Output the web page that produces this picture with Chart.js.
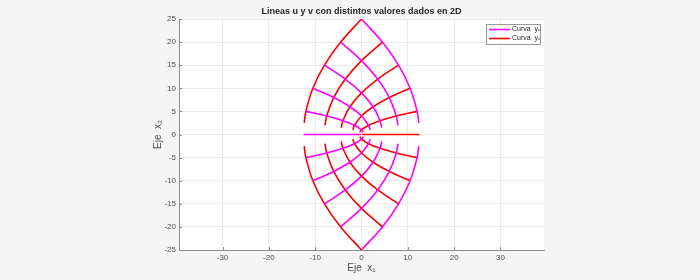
<!DOCTYPE html>
<html>
<head>
<meta charset="utf-8">
<script src="https://cdn.jsdelivr.net/npm/chart.js@4.4.0/dist/chart.umd.min.js"></script>
<style>
  html, body { margin: 0; padding: 0; background: #f5f5f5; }
  canvas { display: block; }
</style>
</head>
<body>
<canvas id="grafico" width="700" height="280"></canvas>
<script>
// Ticks
const xTicks = [-30, -20, -10, 0, 10, 20, 30];
const yTicks = [-25, -20, -15, -10, -5, 0, 5, 10, 15, 20, 25];

// Curvas y_u (magenta), una fila por curva (u = 5, 4, 3, 2, 1)
const xU = [
  [0, 4.5, 8, 10.5, 12, 12.375],
  [-4.5, 0, 3.5, 6, 7.5, 7.875],
  [-8, -3.5, 0, 2.5, 4, 4.375],
  [-10.5, -6, -2.5, 0, 1.5, 1.875],
  [-12, -7.5, -4, -1.5, 0, 0.375]
];
const yUsup = [
  [25, 20, 15, 10, 5, 2.5],
  [20, 16, 12, 8, 4, 2],
  [15, 12, 9, 6, 3, 1.5],
  [10, 8, 6, 4, 2, 1],
  [5, 4, 3, 2, 1, 0.5]
];
const yUinf = [
  [-25, -20, -15, -10, -5, -2.5],
  [-20, -16, -12, -8, -4, -2],
  [-15, -12, -9, -6, -3, -1.5],
  [-10, -8, -6, -4, -2, -1],
  [-5, -4, -3, -2, -1, -0.5]
];
const xU0 = [-12.5, -0.125];
const yU0 = [0, 0];

// Curvas y_v (rojo), una fila por curva (v = 5, 4, 3, 2, 1)
const xV = [
  [0, -4.5, -8, -10.5, -12, -12.375],
  [4.5, 0, -3.5, -6, -7.5, -7.875],
  [8, 3.5, 0, -2.5, -4, -4.375],
  [10.5, 6, 2.5, 0, -1.5, -1.875],
  [12, 7.5, 4, 1.5, 0, -0.375]
];
const yVsup = [
  [25, 20, 15, 10, 5, 2.5],
  [20, 16, 12, 8, 4, 2],
  [15, 12, 9, 6, 3, 1.5],
  [10, 8, 6, 4, 2, 1],
  [5, 4, 3, 2, 1, 0.5]
];
const yVinf = [
  [-25, -20, -15, -10, -5, -2.5],
  [-20, -16, -12, -8, -4, -2],
  [-15, -12, -9, -6, -3, -1.5],
  [-10, -8, -6, -4, -2, -1],
  [-5, -4, -3, -2, -1, -0.5]
];
const xV0 = [0.125, 12.5];
const yV0 = [0, 0];

const MAGENTA = '#ff00ff';
const ROJO = '#ff0000';
const FUENTE = '"Liberation Sans", "DejaVu Sans", Arial, sans-serif';

function puntos(xs, ys) {
  return xs.map((x, i) => ({ x: x, y: ys[i] }));
}

function curva(xs, ys, color) {
  return {
    data: puntos(xs, ys),
    showLine: true,
    borderColor: color,
    backgroundColor: color,
    borderWidth: 1.6,
    pointRadius: 0,
    tension: 0.4,
    fill: false
  };
}

const datasets = [];
xU.forEach((xs, i) => datasets.push(curva(xs, yUsup[i], MAGENTA)));
xU.forEach((xs, i) => datasets.push(curva(xs, yUinf[i], MAGENTA)));
datasets.push(curva(xU0, yU0, MAGENTA));
xV.forEach((xs, i) => datasets.push(curva(xs, yVsup[i], ROJO)));
xV.forEach((xs, i) => datasets.push(curva(xs, yVinf[i], ROJO)));
datasets.push(curva(xV0, yV0, ROJO));

// Fondo, titulo, etiquetas de ejes, marcas interiores y leyenda (estilo MATLAB)
const estiloMatlab = {
  id: 'estiloMatlab',
  beforeDraw(chart) {
    const ctx = chart.ctx;
    const a = chart.chartArea;
    ctx.save();
    ctx.fillStyle = '#f5f5f5';
    ctx.fillRect(0, 0, chart.width, chart.height);
    ctx.fillStyle = '#ffffff';
    ctx.fillRect(a.left, a.top, a.right - a.left, a.bottom - a.top);
    ctx.restore();
  },
  afterDraw(chart) {
    const ctx = chart.ctx;
    const a = chart.chartArea;
    const sx = chart.scales.x;
    const sy = chart.scales.y;
    ctx.save();

    // marcas interiores
    ctx.strokeStyle = '#8c8c8c';
    ctx.lineWidth = 1;
    ctx.beginPath();
    xTicks.forEach(v => {
      const px = Math.round(sx.getPixelForValue(v)) + 0.5;
      ctx.moveTo(px, a.bottom);
      ctx.lineTo(px, a.bottom - 3);
    });
    yTicks.forEach(v => {
      const py = Math.round(sy.getPixelForValue(v)) + 0.5;
      ctx.moveTo(a.left, py);
      ctx.lineTo(a.left + 3, py);
    });
    ctx.stroke();

    // titulo
    const cx = (a.left + a.right) / 2;
    ctx.fillStyle = '#262626';
    ctx.font = 'bold 9px ' + FUENTE;
    ctx.textAlign = 'center';
    ctx.textBaseline = 'middle';
    ctx.fillText('Lineas u y v con distintos valores dados en 2D', cx, 12);

    // etiquetas de ejes
    ctx.fillStyle = '#4d4d4d';
    ctx.font = '10px ' + FUENTE;
    ctx.fillText('Eje  x\u2081', cx, 268);
    ctx.save();
    ctx.translate(158, (a.top + a.bottom) / 2);
    ctx.rotate(-Math.PI / 2);
    ctx.fillText('Eje  x\u2082', 0, 0);
    ctx.restore();

    // leyenda
    const lx = 486.5, ly = 24.5, lw = 54, lh = 20;
    ctx.fillStyle = '#ffffff';
    ctx.fillRect(lx, ly, lw, lh);
    ctx.strokeStyle = '#999999';
    ctx.lineWidth = 1;
    ctx.strokeRect(lx, ly, lw, lh);
    const items = [
      { color: MAGENTA, texto: 'Curva  y\u1d64', y: 29.5 },
      { color: ROJO, texto: 'Curva  y\u1d65', y: 38.5 }
    ];
    ctx.font = '7px ' + FUENTE;
    ctx.textAlign = 'left';
    items.forEach(it => {
      ctx.strokeStyle = it.color;
      ctx.lineWidth = 1.6;
      ctx.beginPath();
      ctx.moveTo(489, it.y);
      ctx.lineTo(510, it.y);
      ctx.stroke();
      ctx.fillStyle = '#262626';
      ctx.fillText(it.texto, 512, it.y);
    });
    ctx.restore();
  }
};

new Chart(document.getElementById('grafico'), {
  type: 'scatter',
  data: { datasets: datasets },
  options: {
    responsive: false,
    animation: false,
    layout: { padding: { left: 0, right: 156, top: 19, bottom: 0 } },
    plugins: {
      legend: { display: false },
      title: { display: false },
      tooltip: { enabled: false }
    },
    scales: {
      x: {
        type: 'linear',
        min: -39.4,
        max: 39.4,
        afterBuildTicks: s => { s.ticks = xTicks.map(v => ({ value: v })); },
        afterFit: s => { s.height = 30; },
        grid: { color: '#ebebeb', drawTicks: false },
        border: { color: '#8c8c8c', width: 1 },
        ticks: {
          padding: 3,
          color: '#4d4d4d',
          font: { size: 8, family: FUENTE },
          maxRotation: 0
        }
      },
      y: {
        type: 'linear',
        min: -25,
        max: 25,
        afterBuildTicks: s => { s.ticks = yTicks.map(v => ({ value: v })); },
        afterFit: s => { s.width = 179; },
        grid: { color: '#ebebeb', drawTicks: false },
        border: { color: '#8c8c8c', width: 1 },
        ticks: {
          padding: 3,
          color: '#4d4d4d',
          font: { size: 8, family: FUENTE }
        }
      }
    }
  },
  plugins: [estiloMatlab]
});
</script>
</body>
</html>
